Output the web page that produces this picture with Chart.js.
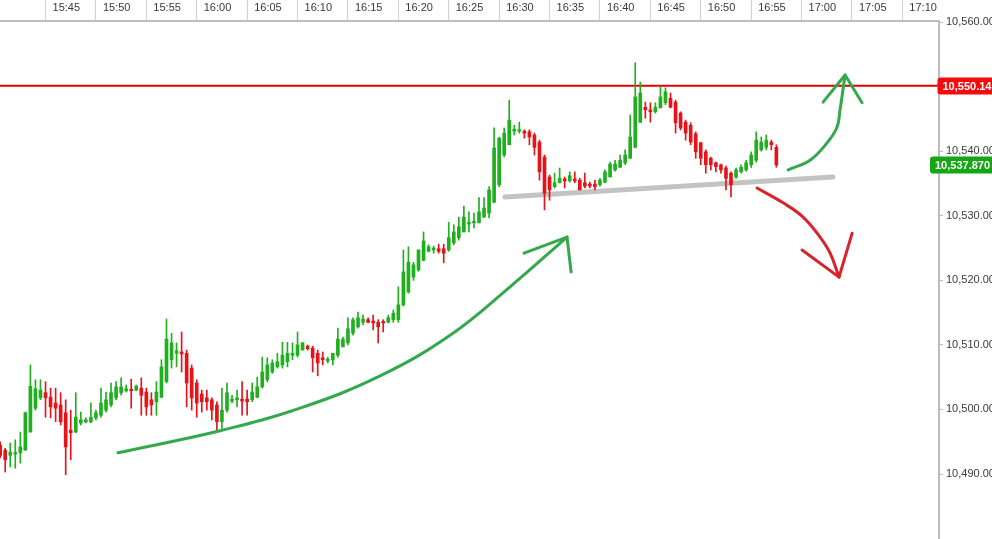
<!DOCTYPE html>
<html><head><meta charset="utf-8">
<script src="https://cdn.jsdelivr.net/npm/chart.js@4.4.1/dist/chart.umd.min.js"></script>
<style>html,body{margin:0;padding:0;background:#fff;overflow:hidden}#wrap{position:relative;width:992px;height:539px}</style>
</head><body><div id="wrap"><canvas id="c"></canvas></div>
<script>
// ---- data (30-second candles) ----
const candleTimes = [
'15:40:30','15:41:00','15:41:30','15:42:00','15:42:30','15:43:00','15:43:30','15:44:00','15:44:30','15:45:00',
'15:45:30','15:46:00','15:46:30','15:47:00','15:47:30','15:48:00','15:48:30','15:49:00','15:49:30','15:50:00',
'15:50:30','15:51:00','15:51:30','15:52:00','15:52:30','15:53:00','15:53:30','15:54:00','15:54:30','15:55:00',
'15:55:30','15:56:00','15:56:30','15:57:00','15:57:30','15:58:00','15:58:30','15:59:00','15:59:30','16:00:00',
'16:00:30','16:01:00','16:01:30','16:02:00','16:02:30','16:03:00','16:03:30','16:04:00','16:04:30','16:05:00',
'16:05:30','16:06:00','16:06:30','16:07:00','16:07:30','16:08:00','16:08:30','16:09:00','16:09:30','16:10:00',
'16:10:30','16:11:00','16:11:30','16:12:00','16:12:30','16:13:00','16:13:30','16:14:00','16:14:30','16:15:00',
'16:15:30','16:16:00','16:16:30','16:17:00','16:17:30','16:18:00','16:18:30','16:19:00','16:19:30','16:20:00',
'16:20:30','16:21:00','16:21:30','16:22:00','16:22:30','16:23:00','16:23:30','16:24:00','16:24:30','16:25:00',
'16:25:30','16:26:00','16:26:30','16:27:00','16:27:30','16:28:00','16:28:30','16:29:00','16:29:30','16:30:00',
'16:30:30','16:31:00','16:31:30','16:32:00','16:32:30','16:33:00','16:33:30','16:34:00','16:34:30','16:35:00',
'16:35:30','16:36:00','16:36:30','16:37:00','16:37:30','16:38:00','16:38:30','16:39:00','16:39:30','16:40:00',
'16:40:30','16:41:00','16:41:30','16:42:00','16:42:30','16:43:00','16:43:30','16:44:00','16:44:30','16:45:00',
'16:45:30','16:46:00','16:46:30','16:47:00','16:47:30','16:48:00','16:48:30','16:49:00','16:49:30','16:50:00',
'16:50:30','16:51:00','16:51:30','16:52:00','16:52:30','16:53:00','16:53:30','16:54:00','16:54:30','16:55:00',
'16:55:30','16:56:00','16:56:30','16:57:00','16:57:30'];

const openPrices = [
10494.5,10493.7,10492.9,10493.1,10493.3,10493.7,10496.5,10500.2,10501.8,10502.6,
10501.9,10501.0,10500.7,10499.5,10496.8,10496.5,10497.9,10498.1,10498.1,10498.7,
10499.1,10499.9,10500.7,10501.8,10502.6,10502.9,10503.0,10503.0,10503.3,10502.7,
10501.5,10501.2,10501.9,10504.3,10507.7,10508.7,10508.9,10508.7,10506.4,10504.1,
10502.4,10501.8,10501.5,10500.7,10498.1,10499.9,10501.3,10501.5,10501.6,10501.6,
10501.5,10501.9,10503.5,10504.6,10505.8,10506.6,10506.9,10507.4,10508.4,10508.4,
10509.2,10509.8,10509.5,10508.7,10508.0,10507.5,10507.7,10508.4,10509.7,10510.3,
10511.8,10512.8,10513.5,10513.9,10513.7,10513.5,10513.5,10513.5,10513.9,10513.9,
10516.2,10518.2,10520.5,10521.6,10523.1,10524.5,10524.7,10524.9,10524.9,10524.7,
10525.8,10526.6,10527.5,10528.7,10528.9,10528.9,10529.8,10530.4,10532.1,10534.8,
10539.4,10541.0,10543.1,10543.1,10543.1,10543.0,10542.5,10541.4,10539.1,10536.0,
10534.5,10535.1,10535.7,10535.4,10535.7,10535.5,10535.1,10534.9,10534.9,10534.8,
10535.2,10536.0,10537.1,10537.5,10538.2,10538.9,10540.6,10544.5,10546.8,10546.4,
10546.1,10546.7,10547.5,10548.2,10547.6,10545.9,10544.5,10544.0,10542.7,10541.3,
10539.9,10538.9,10538.2,10537.9,10537.4,10536.6,10536.0,10536.8,10537.1,10537.9,
10538.6,10540.2,10540.6,10541.4,10540.6];

const highPrices = [
10495.0,10494.0,10494.8,10495.3,10496.5,10499.6,10506.9,10504.6,10504.6,10504.3,
10503.3,10503.3,10502.6,10501.5,10499.9,10502.6,10499.6,10498.7,10501.0,10499.9,
10503.3,10502.7,10504.1,10504.3,10504.9,10503.8,10504.7,10503.8,10504.9,10503.3,
10502.6,10504.3,10507.7,10514.0,10511.8,10510.3,10512.0,10509.2,10506.9,10504.6,
10503.0,10503.0,10501.8,10501.2,10503.3,10504.1,10502.2,10503.0,10504.3,10503.0,
10504.1,10505.0,10508.1,10508.0,10507.7,10508.7,10510.4,10510.4,10510.3,10512.0,
10510.4,10510.0,10509.8,10509.2,10508.9,10508.1,10508.7,10512.6,10511.2,10514.2,
10514.2,10515.1,10514.6,10514.2,10514.6,10513.9,10513.9,10514.6,10515.4,10519.0,
10524.7,10525.2,10522.8,10524.7,10527.5,10525.5,10525.3,10525.6,10525.6,10529.0,
10528.6,10529.8,10531.5,10530.6,10530.4,10532.8,10532.8,10534.5,10543.6,10542.2,
10543.6,10547.9,10544.0,10544.5,10543.3,10543.3,10542.8,10541.7,10539.4,10536.3,
10536.6,10537.4,10536.0,10536.8,10536.8,10535.8,10536.6,10535.2,10535.5,10535.8,
10537.1,10538.3,10538.6,10539.4,10540.2,10545.6,10553.7,10550.7,10547.6,10547.5,
10547.5,10549.9,10549.8,10549.0,10547.9,10546.1,10544.8,10544.4,10543.0,10541.4,
10540.2,10539.1,10538.3,10538.0,10537.7,10536.8,10537.4,10537.9,10538.6,10539.9,
10543.0,10542.2,10542.5,10541.7,10541.0];

const lowPrices = [
10492.5,10490.3,10491.1,10490.9,10491.7,10493.7,10496.5,10499.9,10501.5,10498.8,
10498.7,10498.1,10497.6,10489.9,10492.2,10496.4,10497.6,10497.9,10497.9,10498.4,
10498.8,10499.6,10500.4,10501.5,10502.2,10502.7,10500.2,10502.9,10499.1,10499.1,
10499.1,10499.1,10501.8,10504.1,10506.4,10506.6,10505.8,10500.4,10499.9,10498.8,
10499.6,10499.9,10498.4,10496.8,10496.8,10499.6,10501.0,10500.4,10499.1,10499.1,
10501.2,10501.8,10503.3,10504.3,10505.6,10506.4,10506.4,10506.6,10507.7,10508.1,
10509.2,10509.2,10505.8,10505.2,10506.9,10507.2,10506.9,10508.1,10509.7,10510.0,
10511.5,10512.6,10513.1,10513.4,10512.3,10510.3,10512.0,10513.4,10513.5,10513.5,
10516.0,10518.0,10520.0,10521.4,10523.0,10524.4,10524.2,10524.2,10522.7,10524.5,
10525.5,10526.2,10527.5,10527.5,10528.1,10528.9,10529.7,10529.7,10532.0,10534.5,
10539.1,10541.0,10542.5,10542.8,10542.0,10541.0,10539.4,10535.5,10530.9,10532.4,
10534.3,10535.1,10534.3,10535.2,10535.1,10534.0,10534.3,10534.3,10534.0,10534.6,
10535.1,10536.0,10536.9,10537.5,10537.9,10538.9,10540.5,10544.4,10545.1,10544.5,
10545.9,10546.7,10547.2,10546.7,10542.8,10543.3,10541.7,10541.0,10538.9,10537.9,
10536.6,10537.1,10536.8,10536.6,10534.0,10532.9,10535.8,10536.6,10536.9,10537.5,
10538.3,10540.0,10540.2,10540.2,10537.5];

const closePrices = [
10492.9,10492.2,10493.4,10493.3,10494.2,10499.5,10503.6,10503.2,10503.0,10501.8,
10500.4,10500.2,10498.1,10494.2,10496.4,10498.8,10498.4,10498.4,10498.8,10499.5,
10501.0,10501.5,10502.6,10503.5,10503.5,10503.2,10502.9,10503.6,10502.2,10500.4,
10500.7,10502.7,10506.6,10510.9,10510.3,10509.1,10508.6,10504.1,10501.8,10501.0,
10501.2,10501.2,10499.9,10498.1,10499.9,10502.6,10501.6,10501.8,10501.3,10501.2,
10502.7,10503.5,10505.8,10506.9,10507.2,10507.4,10508.4,10508.7,10508.7,10510.0,
10510.3,10509.4,10508.0,10507.2,10507.7,10507.8,10508.7,10510.9,10510.9,10512.5,
10513.9,10514.2,10514.0,10513.5,10513.4,10512.8,10513.4,10514.2,10514.9,10516.2,
10521.3,10522.8,10522.4,10524.7,10526.1,10525.2,10525.0,10524.5,10524.2,10526.6,
10527.5,10528.3,10529.8,10529.0,10529.0,10530.6,10531.2,10534.0,10540.5,10542.0,
10542.8,10544.8,10543.4,10543.3,10542.8,10542.2,10540.6,10536.8,10533.5,10534.0,
10535.1,10535.8,10535.4,10536.2,10535.4,10534.0,10534.6,10534.6,10534.5,10535.5,
10536.8,10538.0,10538.0,10538.6,10539.4,10542.2,10548.4,10549.0,10546.4,10546.1,
10546.8,10548.4,10549.2,10546.8,10544.4,10543.6,10542.8,10541.4,10539.9,10538.9,
10537.9,10537.9,10537.6,10537.1,10535.8,10534.8,10537.1,10537.5,10538.2,10539.4,
10541.7,10541.4,10541.7,10541.0,10537.87];

const xTickLabels = ['15:45','15:50','15:55','16:00','16:05','16:10','16:15','16:20','16:25','16:30','16:35','16:40','16:45','16:50','16:55','17:00','17:05','17:10'];
const yTickValues = [10490,10500,10510,10520,10530,10540,10550,10560];
const xRange = ['15:40:29','17:13:38'];
const yRange = [10479.94, 10560.16];

const resistanceLevel = 10550.14;
const resistanceLabel = '10,550.14';
const lastPrice = 10537.870;
const lastPriceLabel = '10,537.870';

// drawn annotations: [time, price]
const supportLine = [['16:30:35',10532.9],['17:03:07',10536.0]];
const trendCurve = [['15:52:11',10493.3],['16:02:19',10496.7],['16:10:15',10500.2],['16:18:11',10505.2],['16:25:08',10511.5],['16:31:05',10519.0],['16:36:44',10526.7]];
const trendHead = [['16:32:28',10524.2],['16:36:44',10526.7],['16:37:08',10521.3]];
const upCurve = [['16:58:40',10537.1],['17:00:50',10538.6],['17:02:32',10541.3],['17:03:31',10543.7],['17:03:49',10546.4],['17:04:19',10551.8]];
const upHead = [['17:02:08',10547.6],['17:04:19',10551.8],['17:06:00',10547.5]];
const downCurve = [['16:55:35',10534.3],['16:58:10',10532.0],['17:00:09',10529.8],['17:01:50',10526.7],['17:02:50',10524.2],['17:03:43',10520.5]];
const downHead = [['17:00:03',10524.7],['17:03:43',10520.5],['17:05:01',10527.3]];

// ---- helpers ----
function toMin(s){const p=s.split(':').map(Number);return (p[0]-15)*60+p[1]+(p[2]||0)/60;}
const UP='#1faf1f', DOWN='#e5141b';
const FONT='Arial, "Liberation Sans", sans-serif';
const xs = candleTimes.map(toMin);
const isUp = closePrices.map((c,i)=>c>=openPrices[i]);
const colors = isUp.map(u=>u?UP:DOWN);
const bodyData = xs.map((x,i)=>({x, y:[Math.min(openPrices[i],closePrices[i]), Math.max(openPrices[i],closePrices[i])]}));
const wickData = xs.map((x,i)=>({x, y:[lowPrices[i], highPrices[i]]}));
const pts = a=>a.map(p=>({x:toMin(p[0]), y:p[1]}));
function lineDs(data,color,width,tension,order){
  return {type:'line',data,borderColor:color,borderWidth:width,tension,pointRadius:0,fill:false,order,borderCapStyle:'round',borderJoinStyle:'round',clip:false};
}

const priceTags = {
  id:'priceTags',
  afterDraw(chart){
    const ctx=chart.ctx, ys=chart.scales.y;
    const tag=(v,text,x0,color)=>{
      const y=Math.round(ys.getPixelForValue(v));
      ctx.save();
      ctx.fillStyle=color;
      ctx.beginPath();
      ctx.roundRect(x0,y-8.5,70,17,3);
      ctx.fill();
      ctx.fillStyle='#fff';
      ctx.font='bold 11px '+FONT;
      ctx.textBaseline='middle';
      ctx.textAlign='left';
      ctx.fillText(text,x0+5,y+0.5);
      ctx.restore();
    };
    tag(resistanceLevel,resistanceLabel,937.5,'#f20d0d');
    tag(lastPrice,lastPriceLabel,930,'#14a614');
  }
};

new Chart(document.getElementById('c'),{
  type:'bar',
  data:{datasets:[
    lineDs(pts(trendCurve),'#34a84c',3,0.4,0),
    lineDs(pts(trendHead),'#34a84c',3,0,0),
    lineDs(pts(upCurve),'#34a84c',3,0.4,0),
    lineDs(pts(upHead),'#34a84c',3,0,0),
    lineDs(pts(downCurve),'#d9232a',3,0.4,0),
    lineDs(pts(downHead),'#d9232a',3,0,0),
    {type:'bar',data:bodyData,backgroundColor:colors,barThickness:3,grouped:false,minBarLength:1.5,order:1,borderWidth:0},
    {type:'bar',data:wickData,backgroundColor:colors,barThickness:1,grouped:false,order:2,borderWidth:0},
    lineDs([{x:toMin(xRange[0]),y:resistanceLevel},{x:toMin(xRange[1]),y:resistanceLevel}],'#e00000',2,0,3),
    lineDs(pts(supportLine),'#c3c3c3',5,0,4)
  ]},
  options:{
    responsive:true, maintainAspectRatio:false, animation:false,
    layout:{padding:0},
    plugins:{legend:{display:false},tooltip:{enabled:false}},
    scales:{
      x:{type:'linear',position:'top',min:toMin(xRange[0]),max:toMin(xRange[1]),offset:false,
        grid:{display:true,drawOnChartArea:false,drawTicks:true,tickLength:21,color:'#d0d0d0',lineWidth:1,offset:false},
        border:{display:true,color:'#bdbdbd',width:2},
        ticks:{autoSkip:false,maxRotation:0,minRotation:0,align:'start',labelOffset:7,padding:-14.1,color:'#3a3a3a',font:{size:11,family:FONT},
          callback:(v,i)=>xTickLabels[i]},
        afterBuildTicks:s=>{s.ticks=xTickLabels.map(l=>({value:toMin(l)}));},
        afterFit:s=>{s.height=21;s.paddingLeft=0;s.paddingRight=0;}
      },
      y:{type:'linear',position:'right',min:yRange[0],max:yRange[1],
        grid:{drawOnChartArea:false,drawTicks:true,tickLength:4,color:'#bdbdbd'},
        border:{display:true,color:'#bdbdbd',width:2},
        ticks:{padding:3,color:'#3a3a3a',font:{size:11,family:FONT},
          callback:v=>Number(v).toLocaleString('en-US',{minimumFractionDigits:2,maximumFractionDigits:2})},
        afterBuildTicks:s=>{s.ticks=yTickValues.map(v=>({value:v}));},
        afterFit:s=>{s.width=53;s.paddingTop=0;s.paddingBottom=0;}
      }
    }
  },
  plugins:[priceTags]
});
</script></body></html>
